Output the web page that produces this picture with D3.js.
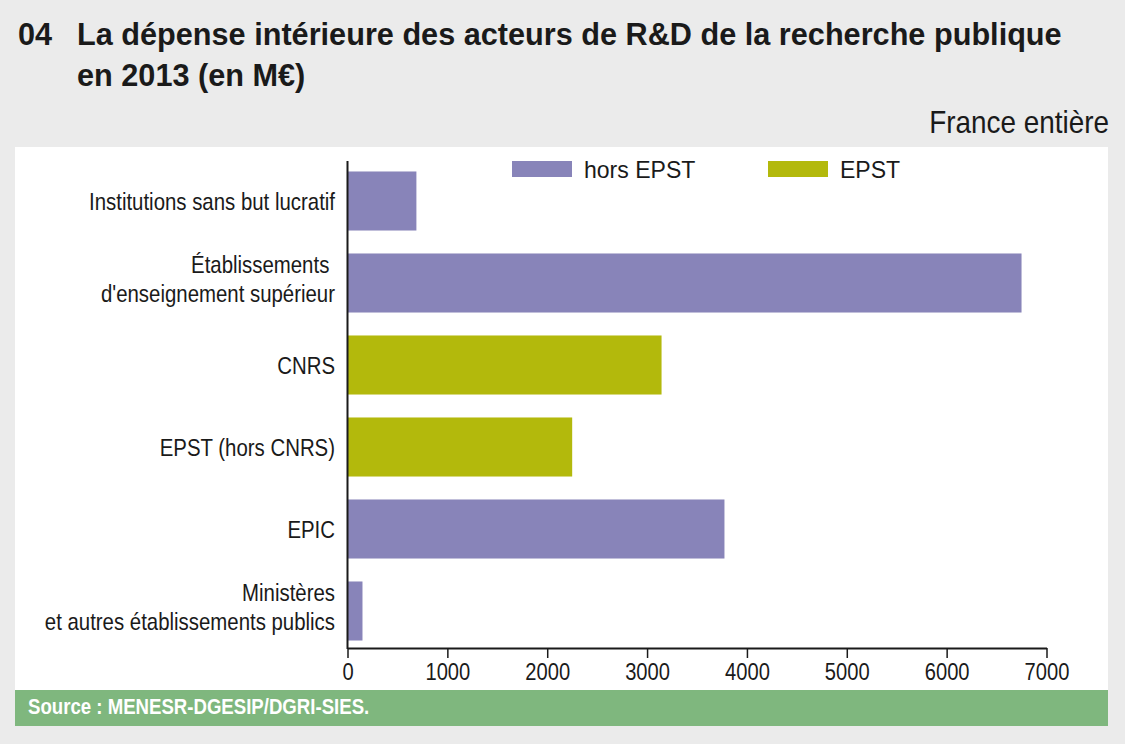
<!DOCTYPE html>
<html>
<head>
<meta charset="utf-8">
<script src="https://cdn.jsdelivr.net/npm/d3@7"></script>
<style>
  body { margin: 0; background: #ebebeb; }
  svg { display: block; font-family: "Liberation Sans", Arial, sans-serif; }
</style>
</head>
<body>
<svg id="chart" width="1125" height="744"></svg>
<script>
var categories = [
  ["Institutions sans but lucratif"],
  ["Établissements ", "d'enseignement supérieur"],
  ["CNRS"],
  ["EPST (hors CNRS)"],
  ["EPIC"],
  ["Ministères", "et autres établissements publics"]
];
var values = [690, 6750, 3145, 2250, 3775, 150];
var groups = ["hors EPST", "hors EPST", "EPST", "EPST", "hors EPST", "hors EPST"];
var legendLabels = ["hors EPST", "EPST"];
var xTicks = [0, 1000, 2000, 3000, 4000, 5000, 6000, 7000];

var ink = "#1a1a1a";
var svg = d3.select("#chart");
var color = d3.scaleOrdinal().domain(legendLabels).range(["#8884b9", "#b3b90c"]);

// narrow-font look: text squeezed horizontally around its anchor
function narrow(g, x, y, sx) {
  return g.append("g").attr("transform", "translate(" + x + "," + y + ") scale(" + sx + ",1)");
}

// background
svg.append("rect").attr("width", 1125).attr("height", 744).attr("fill", "#ebebeb");
svg.append("rect").attr("x", 15).attr("y", 147).attr("width", 1093).attr("height", 543).attr("fill", "#ffffff");
svg.append("rect").attr("x", 15).attr("y", 690).attr("width", 1093).attr("height", 36).attr("fill", "#7fb77e");

// title
var tg = narrow(svg, 18, 45, 1);
tg.append("text").attr("font-size", 32).attr("font-weight", "bold").attr("fill", ink).text("04");
var t1 = tg.append("text").attr("x", 59).attr("font-size", 32).attr("font-weight", "bold").attr("fill", ink)
    .text("La dépense intérieure des acteurs de R&D de la recherche publique");
tg.append("text").attr("x", 59).attr("y", 41).attr("font-size", 32).attr("font-weight", "bold").attr("fill", ink)
    .text("en 2013 (en M€)");
var tsx = 985 / t1.node().getComputedTextLength();
tg.attr("transform", "translate(18,45) scale(" + tsx + ",1)");
tg.selectAll("text").filter(function(d, i) { return i > 0; }).attr("x", 59 / tsx);

narrow(svg, 1109, 133, 0.9).append("text").attr("text-anchor", "end")
    .attr("font-size", 31).attr("fill", ink).text("France entière");

narrow(svg, 28, 714, 0.81).append("text")
    .attr("font-size", 23).attr("font-weight", "bold").attr("fill", "#ffffff")
    .text("Source : MENESR-DGESIP/DGRI-SIES.");

// scales
var x = d3.scaleLinear().domain([0, 7000]).range([347.5, 1046.5]);
var y = d3.scaleBand().domain(d3.range(categories.length)).range([160, 652]).paddingInner(0.28).paddingOuter(0.14);

// bars
svg.append("g").selectAll("rect").data(values).enter().append("rect")
    .attr("x", x(0))
    .attr("y", function(d, i) { return y(i); })
    .attr("width", function(d) { return x(d) - x(0); })
    .attr("height", y.bandwidth())
    .attr("fill", function(d, i) { return color(groups[i]); });

// category labels
categories.forEach(function(lines, i) {
  var cy = y(i) + y.bandwidth() / 2;
  var first = cy + 9 - (lines.length - 1) * 19;
  var t = narrow(svg, 335, first, 0.85).append("text")
      .attr("text-anchor", "end").attr("font-size", 24).attr("fill", ink)
      .attr("xml:space", "preserve");
  t.selectAll("tspan").data(lines).enter().append("tspan")
      .attr("x", 0)
      .attr("y", function(d, j) { return j * 29.5; })
      .text(function(d) { return d; });
});

// axes
var xAxis = svg.append("g").attr("transform", "translate(0,648)")
    .call(d3.axisBottom(x).tickValues(xTicks).tickSize(10).tickSizeOuter(0).tickFormat(d3.format("d")));
xAxis.select(".domain").attr("stroke", ink).attr("stroke-width", 2);
xAxis.selectAll(".tick line").attr("stroke", ink).attr("stroke-width", 1.5);
xAxis.selectAll(".tick text").remove();
xAxis.selectAll(".tick").each(function(d) {
  narrow(d3.select(this), 0, 32, 0.84).append("text")
      .attr("text-anchor", "middle").attr("font-size", 24).attr("fill", ink)
      .attr("font-family", "Liberation Sans, Arial, sans-serif")
      .text(d3.format("d")(d));
});

svg.append("line").attr("x1", x(0)).attr("x2", x(0)).attr("y1", 161).attr("y2", 649)
    .attr("stroke", ink).attr("stroke-width", 2);

// legend
var legend = svg.append("g").selectAll("g").data(legendLabels).enter().append("g")
    .attr("transform", function(d, i) { return "translate(" + (512 + i * 256) + ",161)"; });
legend.append("rect").attr("width", 60).attr("height", 16).attr("fill", function(d) { return color(d); });
legend.each(function(d) {
  narrow(d3.select(this), 72, 17, 0.96).append("text")
      .attr("font-size", 24).attr("fill", ink).text(d);
});
</script>
</body>
</html>
